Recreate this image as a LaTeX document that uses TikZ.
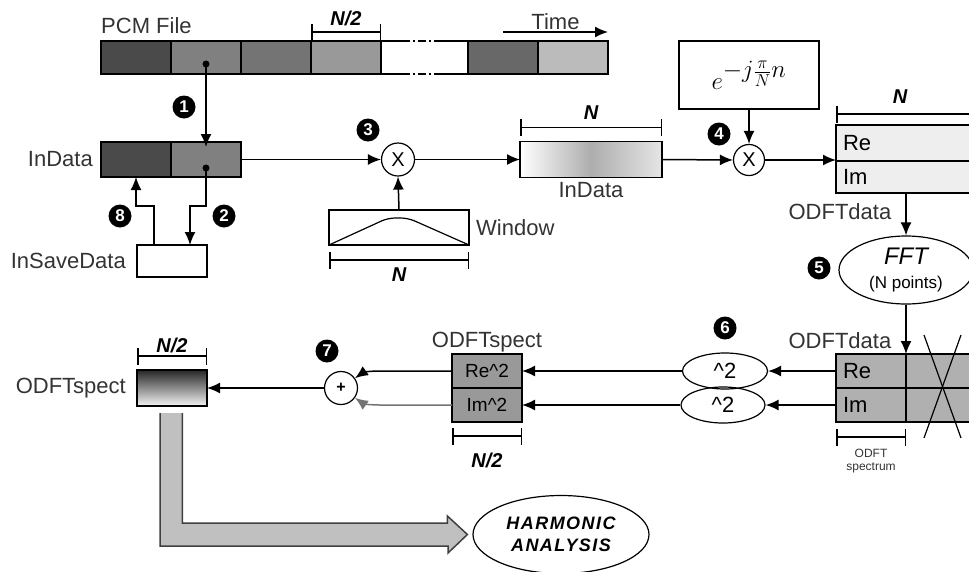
\documentclass[tikz,border=0pt]{standalone}
\usepackage{fontspec}
\setmainfont{Liberation Sans}
\usetikzlibrary{shapes.geometric, arrows.meta, positioning, calc}
\definecolor{pcmA}{RGB}{74, 74, 74}
\definecolor{pcmB}{RGB}{128, 128, 128}
\definecolor{pcmC}{RGB}{116, 116, 116}
\definecolor{pcmD}{RGB}{153, 153, 153}
\definecolor{pcmE}{RGB}{104, 104, 104}
\definecolor{pcmF}{RGB}{187, 187, 187}
\definecolor{odftlight}{RGB}{238, 238, 238}
\definecolor{odftgray}{RGB}{176, 176, 176}
\definecolor{specgray}{RGB}{153, 153, 153}
\definecolor{arrowgray}{RGB}{192, 192, 192}

\begin{document}
\begin{tikzpicture}[
    x=1pt, y=1pt,
    font=\fontsize{22}{26}\selectfont,
    seg/.style={rectangle, draw, line width=1.5pt, minimum width=70pt,
                minimum height=33pt, inner sep=0pt, outer sep=0pt},
    cell/.style={rectangle, draw, line width=1.5pt, minimum width=70pt,
                 minimum height=34pt, inner sep=0pt, outer sep=0pt},
    dot/.style={circle, fill=black, inner sep=0pt, minimum size=7pt},
    numdot/.style={circle, fill=black, text=white, inner sep=0pt,
                   minimum size=23pt, font=\fontsize{17}{17}\selectfont\bfseries},
    mult/.style={circle, draw, line width=1.2pt, inner sep=0pt,
                 minimum size=33pt, font=\fontsize{20}{20}\selectfont},
    oval/.style={ellipse, draw, line width=1.2pt, inner sep=0pt},
    arr/.style={-{Latex[length=13pt, width=11pt]}, line width=1.5pt},
    dim/.style={{Bar[width=17pt]}-{Bar[width=17pt]}, line width=1.5pt},
    dimtxt/.style={font=\fontsize{20}{20}\selectfont\bfseries\itshape},
    lbl/.style={text=black!80, inner sep=2pt},
    bigarr/.style={fill=arrowgray, draw=black!75, line width=1.5pt}
]
\useasboundingbox (0,0) rectangle (969,-571);

% PCM file
\node[seg, fill=pcmA] (s1) at (136,-57.5) {};
\node[seg, fill=pcmB, right=0pt of s1] (s2) {};
\node[seg, fill=pcmC, right=0pt of s2] (s3) {};
\node[seg, fill=pcmD, right=0pt of s3] (s4) {};
\node[seg, draw=none, minimum width=87pt, right=0pt of s4] (s5) {};
\node[seg, fill=pcmE, right=0pt of s5] (s6) {};
\node[seg, fill=pcmF, right=0pt of s6] (s7) {};
\draw[line width=1.5pt] (s5.north west) -- ++(21,0);
\draw[line width=1.5pt] (s5.south west) -- ++(21,0);
\draw[line width=1.5pt, dash pattern=on 8pt off 3pt on 2pt off 3pt]
    ([xshift=21pt]s5.north west) -- ([xshift=-26pt]s5.north east);
\draw[line width=1.5pt, dash pattern=on 8pt off 3pt on 2pt off 3pt]
    ([xshift=21pt]s5.south west) -- ([xshift=-26pt]s5.south east);
\draw[line width=1.5pt] ([xshift=-26pt]s5.north east) -- (s5.north east);
\draw[line width=1.5pt] ([xshift=-26pt]s5.south east) -- (s5.south east);
\node[lbl, anchor=base west, inner sep=0pt] (pcm) at ([yshift=8pt]s1.north west) {PCM File};
\draw[dim] ([yshift=9pt]s4.north west) -- ([yshift=9pt]s4.north east);
\node[dimtxt] (nh1) at ([yshift=23pt]s4.north) {N/2};
\coordinate (t1) at ([yshift=9pt]s7.north east);
\coordinate (t0) at ([xshift=-105pt]t1);
\draw[arr] (t0) -- node[lbl, above] (time) {Time} (t1);
\node[dot] (d1) at ([yshift=-6.5pt]s2.center) {};

% InData and InSaveData
\node[seg, fill=pcmA, minimum height=35pt] (in1) at (136,-159.5) {};
\node[seg, fill=pcmB, minimum height=35pt, right=0pt of in1] (in2) {};
\node[lbl, left=6pt of in1] (inlbl) {InData};
\node[dot] (d2) at ([yshift=-8.5pt]in2.center) {};
\node[numdot] (n1) at (184,-107) {1};
\draw[arr] (d1.center) -- ([yshift=-5pt]in2.north);
\node[seg, minimum height=32pt] (save) at (172,-261) {};
\node[lbl, left=9pt of save] (savelbl) {InSaveData};
\draw[arr] (d2.center) -- ++(0,-38) -| ([xshift=18pt]save.north);
\draw[arr] ([xshift=-18pt]save.north) -- ++(0,39) -| (in1.south);
\node[numdot] (n2) at (224,-216) {2};
\node[numdot] (n8) at (120,-216) {8};

% Window
\node[mult] (x3) at (398,-159.5) {X};
\node[seg, minimum width=140pt, minimum height=35pt] (win) at (399,-227.5) {};
\draw[line width=1.2pt, rounded corners=7pt] (win.south west) -- ++(59,27)
    -- ++(20,0) -- (win.south east);
\node[lbl, right=5pt of win] (winlbl) {Window};
\draw[arr] (win.north) -- (x3.south);
\draw[arr] (in2.east) -- (x3.west);
\draw[dim] ([yshift=-15pt]win.south west) -- ([yshift=-15pt]win.south east);
\node[dimtxt] (nw) at ([yshift=-30pt]win.south) {N};
\node[numdot] (n3) at (368,-130) {3};

% windowed InData
\node[seg, minimum width=142pt, minimum height=36pt, left color=white,
      right color=white!90!black, middle color=black!32] (ind) at (591,-159.5) {};
\node[lbl, below=3pt of ind] (indlbl) {InData};
\draw[arr] (x3.east) -- (ind.west);
\draw[dim] ([yshift=14pt]ind.north west) -- ([yshift=14pt]ind.north east);
\node[dimtxt] (ni) at ([yshift=29pt]ind.north) {N};

% pre-twiddle
\node[seg, minimum width=140pt, minimum height=68pt] (expo) at (749,-75)
    {\fontsize{34}{36}\selectfont $e^{-j\frac{\pi}{N}n}$};
\node[mult, minimum size=31pt] (x4) at (749,-160) {X};
\draw[arr] (expo.south) -- (x4.north);
\draw[arr] (ind.east) -- (x4.west);
\node[numdot] (n4) at (719,-134) {4};

% ODFTdata before FFT
\node[cell, minimum width=140pt, minimum height=36pt, fill=odftlight,
      text width=126pt, align=left] (re1) at (906,-143) {Re};
\node[cell, minimum width=140pt, minimum height=32pt, fill=odftlight,
      text width=126pt, align=left, below=0pt of re1] (im1) {Im};
\draw[arr] (x4.east) -- (x4.east -| re1.south west);
\draw[dim] ([yshift=11pt]re1.north west) -- ([yshift=11pt]re1.north east);
\node[dimtxt] (nr) at ([xshift=-6pt,yshift=28pt]re1.north) {N};

% FFT
\node[oval, minimum width=134pt, minimum height=68pt, align=center] (fft) at (906,-270)
    {{\fontsize{24}{26}\selectfont\itshape FFT}\\[-2pt]{\fontsize{17}{19}\selectfont (N points)}};
\draw[arr] (im1.south) -- node[lbl, pos=0.45, left=12pt] (od1) {ODFTdata} (fft.north);
\node[numdot] (n5) at (819,-268) {5};

% ODFTdata after FFT
\node[cell, fill=odftgray, text width=56pt, align=left] (re2) at (871,-371) {Re};
\node[cell, fill=odftgray, right=0pt of re2] (re2x) {};
\node[cell, fill=odftgray, text width=56pt, align=left, below=0pt of re2] (im2) {Im};
\node[cell, fill=odftgray, right=0pt of im2] (im2x) {};
\draw[arr] (fft.south) -- node[lbl, pos=0.72, left=12pt] (od2) {ODFTdata} (re2.north east);
\draw[line width=1.2pt] ([xshift=18pt,yshift=19pt]re2x.north west) -- ([xshift=55pt,yshift=-16pt]im2x.south west);
\draw[line width=1.2pt] ([xshift=55pt,yshift=19pt]re2x.north west) -- ([xshift=18pt,yshift=-16pt]im2x.south west);
\draw[dim] ([yshift=-15pt]im2.south west) -- ([yshift=-15pt]im2.south east);
\node[text=black!80, align=center, font=\fontsize{12}{13}\selectfont] (spcl) at ([yshift=-39pt]im2.south) {ODFT\\spectrum};

% squares
\node[oval, minimum width=85pt, minimum height=36pt] (sq1) at (725,-371) {\textasciicircum{}2};
\node[oval, minimum width=84pt, minimum height=36pt] (sq2) at (723,-405) {\textasciicircum{}2};
\draw[arr] (re2.west) -- (sq1.east);
\draw[arr] (im2.west) -- (sq2.east);
\node[numdot] (n6) at (725,-328) {6};

% ODFTspect parts
\node[cell, fill=specgray, font=\fontsize{19}{20}\selectfont] (spr) at (487,-371) {Re\textasciicircum{}2};
\node[cell, fill=specgray, font=\fontsize{19}{20}\selectfont, below=0pt of spr] (spi) {Im\textasciicircum{}2};
\node[lbl, above=0pt of spr] (sprlbl) {ODFTspect};
\draw[arr] (sq1.west) -- (spr.east);
\draw[arr] (sq2.west) -- (spi.east);
\draw[dim] ([yshift=-14pt]spi.south west) -- ([yshift=-14pt]spi.south east);
\node[dimtxt] (ns) at ([yshift=-38pt]spi.south) {N/2};

% sum
\node[mult, font=\fontsize{16}{16}\selectfont\bfseries] (plus) at (341,-388) {+};
\draw[arr] (spr.west) -- ++(-72,0) to[out=180, in=35] (plus.35);
\draw[arr, draw=black!55] (spi.west) -- ++(-72,0) to[out=180, in=-35] (plus.-35);
\node[numdot] (n7) at (327,-351) {7};

% ODFTspect result
\node[cell, minimum height=36pt, top color=black!85, bottom color=black!4,
      middle color=black!45] (spc) at (172,-388) {};
\node[lbl, left=9pt of spc] (spclbl) {ODFTspect};
\draw[arr] (plus.west) -- (spc.east);
\draw[dim] ([yshift=14pt]spc.north west) -- ([yshift=14pt]spc.north east);
\node[dimtxt] (nsp) at ([yshift=25pt]spc.north) {N/2};

% harmonic analysis
\node[oval, minimum width=176pt, minimum height=78pt, align=center,
      font=\fontsize{18}{22}\selectfont\bfseries\itshape\addfontfeatures{LetterSpace=8}]
      (harm) at (561,-534.5) {HARMONIC\\ANALYSIS};
\filldraw[bigarr] ([xshift=-12pt,yshift=-7pt]spc.south) -- ++(0,-133) -- ++(288,0)
    -- ++(0,-7) -- ([xshift=-5pt]harm.west) -- ++(-20,18.5) -- ++(0,-7)
    -- ++(-265,0) -- ++(0,110);

\end{tikzpicture}
\end{document}
